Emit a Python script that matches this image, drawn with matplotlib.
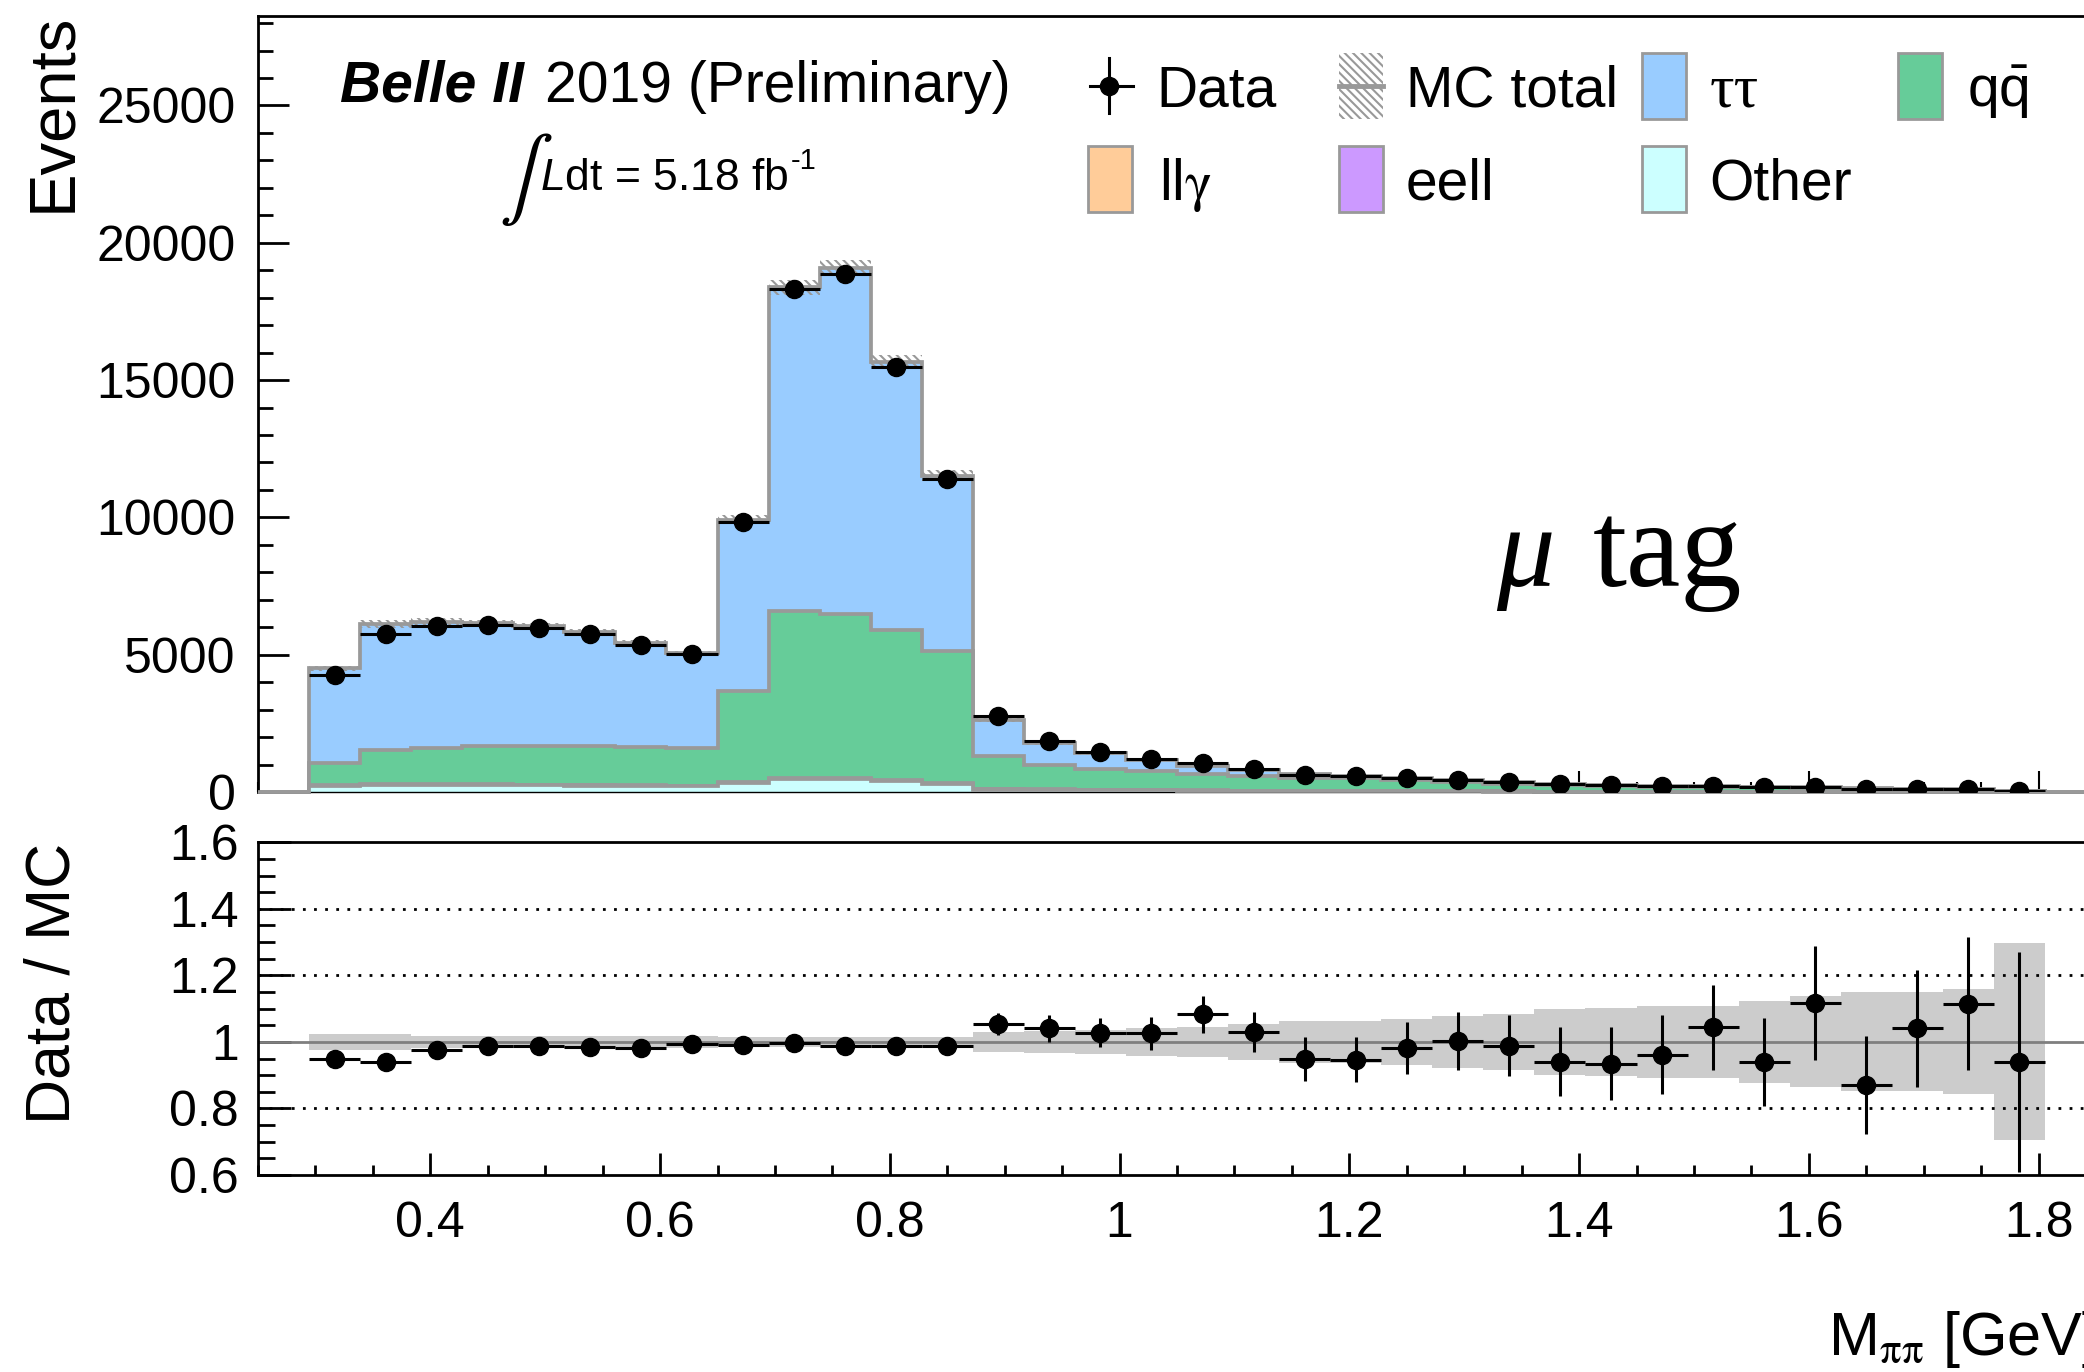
import numpy as np
import matplotlib
matplotlib.use("Agg")
import matplotlib.pyplot as plt
from matplotlib.patches import Rectangle
from matplotlib.lines import Line2D
from matplotlib.ticker import MultipleLocator, FuncFormatter

plt.rcParams['font.family'] = ['Liberation Sans', 'DejaVu Sans']
plt.rcParams['mathtext.fontset'] = 'custom'
plt.rcParams['mathtext.rm'] = 'Liberation Sans'
plt.rcParams['mathtext.it'] = 'Liberation Sans:italic'
plt.rcParams['mathtext.sf'] = 'Liberation Sans'
plt.rcParams['hatch.linewidth'] = 1.5

W, H = 2084, 1372

# binning: 36 bins on [0.25, 1.85], first and last one empty
x_lo, x_hi, n_bins = 0.25, 1.85, 36

# MC components per filled bin (34 bins)
tautau = [3430, 4590, 4610, 4500, 4350, 4140, 3800, 3460, 6240, 11790, 12610, 9760, 6400,
          1290, 780, 575, 420, 300, 215, 135, 95, 80, 70, 55, 45, 40, 38, 30, 30, 25, 25, 20, 17, 8]
qqbar = [820, 1250, 1320, 1380, 1420, 1430, 1390, 1360, 3320, 6070, 5960, 5460, 4800,
         1220, 900, 756, 690, 605, 548, 465, 470, 400, 345, 280, 237, 205, 185, 163, 158, 130, 114, 95, 83, 40]
llgamma = [20, 20, 20, 20, 20, 20, 20, 20, 25, 30, 30, 25, 20,
           10, 8, 6, 5, 4, 4, 3, 3, 3, 2, 2, 2, 2, 1, 1, 1, 1, 1, 1, 1, 0]
eell = [10, 10, 8, 8, 8, 7, 7, 6, 6, 6, 5, 5, 5,
        4, 4, 3, 3, 3, 2, 2, 2, 2, 1, 1, 1, 1, 1, 1, 1, 1, 0, 0, 0, 0]
other = [220, 250, 250, 250, 240, 230, 220, 210, 330, 480, 480, 400, 300,
         90, 80, 70, 60, 50, 40, 35, 30, 25, 20, 18, 15, 12, 10, 10, 8, 7, 6, 5, 4, 2]

# data counts
data = [4275, 5759, 6053, 6078, 5966, 5740, 5339, 5031, 9842, 18321, 18875, 15478, 11387,
        2755, 1845, 1449, 1209, 1042, 832, 607, 568, 501, 439, 352, 282, 243, 226, 214, 186, 183,
        127, 126, 117, 47]
# relative uncertainty of data/MC points
ratio_err = [0.015, 0.013, 0.013, 0.013, 0.013, 0.013, 0.014, 0.014, 0.010, 0.007, 0.007, 0.008, 0.009,
             0.033, 0.040, 0.044, 0.050, 0.055, 0.060, 0.065, 0.067, 0.078, 0.088, 0.092, 0.104, 0.109,
             0.118, 0.128, 0.132, 0.171, 0.148, 0.176, 0.200, 0.330]
# relative MC uncertainty
mc_err = [0.023, 0.023, 0.018, 0.018, 0.018, 0.018, 0.018, 0.018, 0.016, 0.015, 0.015, 0.016, 0.016,
          0.029, 0.032, 0.036, 0.042, 0.045, 0.053, 0.062, 0.062, 0.070, 0.078, 0.085, 0.098, 0.103,
          0.108, 0.108, 0.123, 0.137, 0.149, 0.149, 0.158, 0.296]

c_tau = '#99ccff'
c_qq = '#66cc99'
c_llg = '#ffcc99'
c_eell = '#cc99ff'
c_other = '#ccffff'
c_line = '#999999'


def pad(a):
    return np.concatenate([[0.0], np.asarray(a, float), [0.0]])


def fx(px):
    return px / W


def fy(py):
    return 1 - py / H


edges = np.linspace(x_lo, x_hi, n_bins + 1)
centers = 0.5 * (edges[1:-2] + edges[2:-1])
half_w = 0.5 * (edges[1] - edges[0])

# stack, bottom to top
stack = [(other, c_other), (eell, c_eell), (llgamma, c_llg), (qqbar, c_qq), (tautau, c_tau)]
levels = np.cumsum([pad(s) for s, _ in stack], axis=0)
mc_total = levels[-1][1:-1]
data = np.asarray(data, float)
ratio = data / mc_total
ratio_err = np.asarray(ratio_err)
mc_err = np.asarray(mc_err)

fig = plt.figure(figsize=(W / 100, H / 100), dpi=100)
ax = fig.add_axes([fx(258), fy(792), (2096 - 258) / W, (792 - 15.7) / H])
ax2 = fig.add_axes([fx(258), fy(1175), (2096 - 258) / W, (1175 - 842.3) / H])

# stacked MC, drawn top first so lower fills overlap upper outlines
for k in range(len(stack) - 1, -1, -1):
    z = 2 + (len(stack) - k) * 0.1
    ax.stairs(levels[k], edges, fill=True, color=stack[k][1], zorder=z)
    ax.stairs(levels[k], edges, color=c_line, lw=2.7, zorder=z + 0.05, clip_on=False)

# MC total uncertainty (hatched)
tot = levels[-1]
rel = pad(mc_err)
ax.stairs(tot * (1 + rel), edges, baseline=tot * (1 - rel), fill=True, facecolor='none',
          edgecolor=c_line, hatch='\\\\\\\\', lw=0, zorder=3)

ax.errorbar(centers, data, xerr=half_w, yerr=ratio_err * mc_total, fmt='o', color='black',
            ms=13, elinewidth=2.2, capsize=0, zorder=5)

ax.set_xlim(x_lo, x_hi)
ax.set_ylim(0, 28270)
ax.set_axisbelow(True)
ax.yaxis.set_major_locator(MultipleLocator(5000))
ax.yaxis.set_minor_locator(MultipleLocator(1000))
ax.xaxis.set_major_locator(MultipleLocator(0.2))
ax.xaxis.set_minor_locator(MultipleLocator(0.05))
ax.tick_params(axis='y', which='major', direction='in', length=22, width=2, labelsize=36, pad=16)
ax.tick_params(axis='y', which='minor', direction='in', length=11, width=2)
ax.tick_params(axis='x', which='major', direction='in', length=15, width=1.5, labelbottom=False)
ax.tick_params(axis='x', which='minor', direction='in', length=7, width=1.5)
ax.yaxis.set_major_formatter(FuncFormatter(lambda v, p: '%d' % v))
for s in ['top', 'left', 'right']:
    ax.spines[s].set_linewidth(2)
ax.spines['bottom'].set_linewidth(1)

# ratio panel
ax2.stairs(1 + rel, edges, baseline=1 - rel, fill=True, color='#cccccc', lw=0, zorder=1)
ax2.axhline(1, color='#7f7f7f', lw=2, zorder=2)
for yg in [0.8, 1.2, 1.4]:
    ax2.axhline(yg, color='black', lw=2, ls=(0, (1, 3)), zorder=1.5)
ax2.errorbar(centers, ratio, xerr=half_w, yerr=ratio_err, fmt='o', color='black',
             ms=13, elinewidth=2.2, capsize=0, zorder=5)
ax2.set_xlim(x_lo, x_hi)
ax2.set_ylim(0.6, 1.6)
ax2.yaxis.set_major_locator(MultipleLocator(0.2))
ax2.yaxis.set_minor_locator(MultipleLocator(0.05))
ax2.xaxis.set_major_locator(MultipleLocator(0.2))
ax2.xaxis.set_minor_locator(MultipleLocator(0.05))
ax2.tick_params(axis='y', which='major', direction='in', length=24, width=2, labelsize=36, pad=14)
ax2.tick_params(axis='y', which='minor', direction='in', length=12, width=2)
ax2.tick_params(axis='x', which='major', direction='in', length=16, width=2, labelsize=36, pad=19)
ax2.tick_params(axis='x', which='minor', direction='in', length=7, width=2)
ax2.yaxis.set_major_formatter(FuncFormatter(lambda v, p: '%g' % round(v, 2)))
ax2.xaxis.set_major_formatter(FuncFormatter(lambda v, p: '%g' % round(v, 2)))
for s in ax2.spines.values():
    s.set_linewidth(2)

# axis titles
fig.text(fx(53), fy(13), 'Events', rotation=90, ha='center', va='top', fontsize=47)
fig.text(fx(53), fy(843), 'Data / MC', rotation=90, ha='center', va='top', fontsize=45)
fig.text(fx(2096), fy(1355), r'M$_{\mathrm{\pi\pi}}$ [GeV]', ha='right', va='baseline',
         fontsize=44, math_fontfamily='stix')

# experiment labels
fig.text(fx(340), fy(102), 'Belle II', fontsize=41, fontweight='bold', fontstyle='italic',
         va='baseline')
fig.text(fx(545), fy(102), '2019 (Preliminary)', fontsize=41, va='baseline')
fig.text(fx(499), fy(180), r'$\int$', fontsize=58, va='center', ha='left', math_fontfamily='stix')
lumi = fig.text(fx(540), fy(190), r'$\mathit{L}$dt = 5.18 fb', fontsize=32, va='baseline')
plt.annotate('-1', xy=(1.0, 1.0), xycoords=lumi, xytext=(1.5, 8), textcoords='offset points',
             fontsize=21, ha='left', va='top')

fig.text(fx(1496), fy(586), 'μ', family='Liberation Serif', fontstyle='italic', fontsize=84,
         va='baseline')
fig.text(fx(1593), fy(586), 'tag', family='Liberation Serif', fontsize=88, va='baseline')

# legend
row_y = [85.5, 179.0]
base_y = [106.7, 200.0]
box_h = 66
box_w = 44


def box(x0, row, fc, hatch=None):
    yc = row_y[row]
    r = Rectangle((fx(x0), fy(yc + box_h / 2)), box_w / W, box_h / H, transform=fig.transFigure,
                  facecolor=fc, edgecolor=c_line, lw=2, hatch=hatch)
    fig.add_artist(r)
    return r


def label(x0, row, txt, size=41, **kw):
    fig.text(fx(x0), fy(base_y[row]), txt, fontsize=size, va='baseline', **kw)


# Data entry
fig.add_artist(Line2D([fx(1109), fx(1109)], [fy(57.7), fy(113.3)], transform=fig.transFigure,
                      color='black', lw=2.2))
fig.add_artist(Line2D([fx(1089.6), fx(1132.5)], [fy(85.5), fy(85.5)], transform=fig.transFigure,
                      color='black', lw=2.2))
fig.add_artist(Line2D([fx(1109)], [fy(85.5)], transform=fig.transFigure, color='black',
                      marker='o', ms=13))
label(1156, 0, 'Data')

# MC total entry
hb = box(1339, 0, 'none', hatch='\\\\\\\\')
hb.set_linewidth(0)
fig.add_artist(Line2D([fx(1339), fx(1383)], [fy(85.5), fy(85.5)], transform=fig.transFigure,
                      color=c_line, lw=3.5))
label(1406, 0, 'MC total')

box(1642, 0, c_tau)
label(1709.6, 0, 'ττ', size=44, family='Liberation Serif')
box(1897.6, 0, c_qq)
label(1967, 0, r'q$\bar{\mathrm{q}}$')

box(1088, 1, c_llg)
label(1159, 1, r'll$\mathrm{\gamma}$', math_fontfamily='stix')
box(1339, 1, c_eell)
label(1406, 1, 'eell')
box(1642, 1, c_other)
label(1709.6, 1, 'Other')

fig.savefig('out.png', dpi=100)
